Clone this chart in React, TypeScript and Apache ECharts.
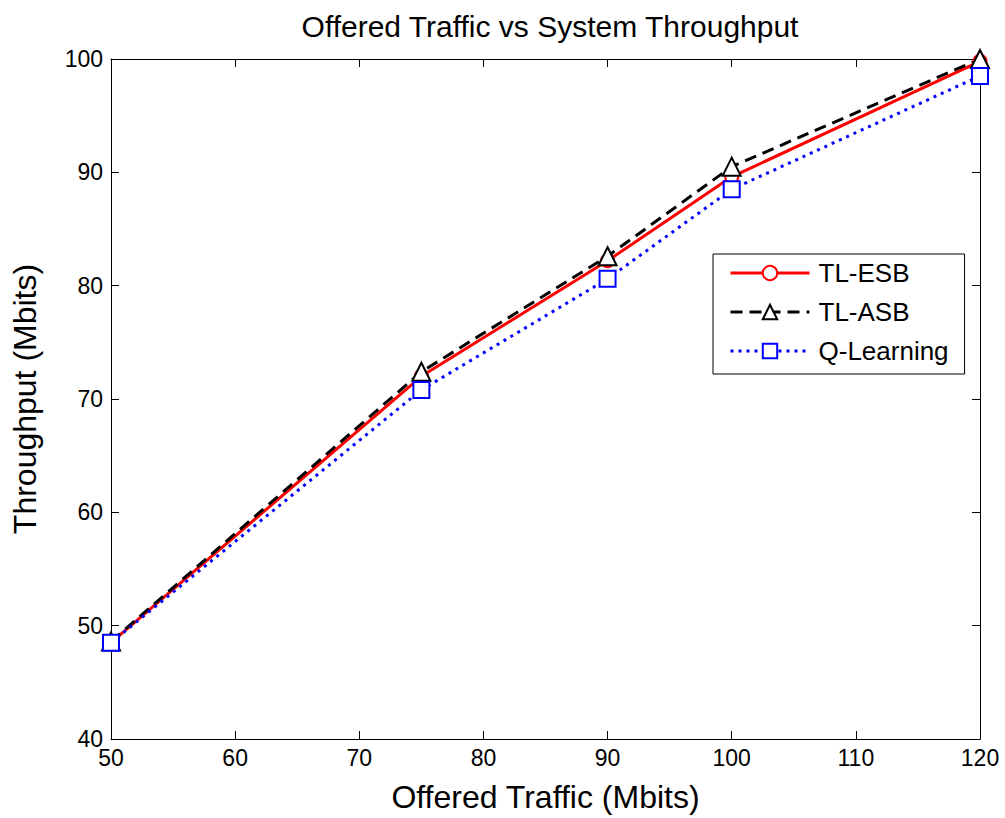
import React, { useEffect, useRef } from "react";
import * as echarts from "echarts";

// Offered traffic (Mbits) on the x axis
const traffic = [50, 75, 90, 100, 120];
// Throughput (Mbits) for each scheme
const tlEsb = [48.5, 72.0, 82.2, 89.6, 99.8];
const tlAsb = [48.6, 72.4, 82.6, 90.5, 100.0];
const qLearning = [48.5, 70.8, 80.6, 88.5, 98.5];

const xTicks = [50, 60, 70, 80, 90, 100, 110, 120];
const yTicks = [40, 50, 60, 70, 80, 90, 100];

const FONT = "'Liberation Sans', Arial, Helvetica, sans-serif";

const pairs = (ys: number[]) => traffic.map((x, i) => [x, ys[i]]);

export default function App() {
  const ref = useRef<HTMLDivElement>(null);

  useEffect(() => {
    if (!ref.current) return;
    const chart = echarts.init(ref.current, null, { renderer: "svg" });

    const grid = { left: 111, top: 59, width: 869, height: 683 };
    const tick = { show: true, inside: true, length: 8, lineStyle: { color: "#000", width: 1 } };
    const axisLine = { show: true, onZero: false, lineStyle: { color: "#000", width: 1 } };

    chart.setOption({
      animation: false,
      backgroundColor: "#fff",
      title: {
        text: "Offered Traffic vs System Throughput",
        left: 545,
        top: 6,
        textAlign: "center",
        textStyle: { fontFamily: FONT, fontSize: 30, fontWeight: "normal", color: "#000" },
      },
      grid,
      legend: {
        orient: "vertical",
        left: 713,
        top: 254,
        padding: [6, 16, 10, 16],
        itemGap: 13,
        itemWidth: 79,
        itemHeight: 18,
        borderColor: "#000",
        borderWidth: 1,
        backgroundColor: "#fff",
        lineStyle: { width: 3 },
        itemStyle: { borderWidth: 3 },
        textStyle: { fontFamily: FONT, fontSize: 26, color: "#000", padding: [0, 0, 0, 4] },
        data: ["TL-ESB", "TL-ASB", "Q-Learning"],
      },
      xAxis: [
        {
          type: "value",
          min: 50,
          max: 120,
          interval: 10,
          name: "Offered Traffic (Mbits)",
          nameLocation: "middle",
          nameGap: 42,
          nameTextStyle: { fontFamily: FONT, fontSize: 32, color: "#000" },
          axisLine,
          axisTick: tick,
          axisLabel: {
            fontFamily: FONT,
            fontSize: 23,
            color: "#000",
            margin: 7,
            customValues: xTicks,
          },
          splitLine: { show: false },
        },
        {
          type: "value",
          position: "top",
          min: 50,
          max: 120,
          interval: 10,
          axisLine,
          axisTick: tick,
          axisLabel: { show: false },
          splitLine: { show: false },
        },
      ],
      yAxis: [
        {
          type: "value",
          min: 40,
          max: 100,
          interval: 10,
          name: "Throughput (Mbits)",
          nameLocation: "middle",
          nameGap: 70,
          nameTextStyle: { fontFamily: FONT, fontSize: 32, color: "#000" },
          axisLine,
          axisTick: tick,
          axisLabel: {
            fontFamily: FONT,
            fontSize: 23,
            color: "#000",
            margin: 8,
            customValues: yTicks,
          },
          splitLine: { show: false },
        },
        {
          type: "value",
          position: "right",
          min: 40,
          max: 100,
          interval: 10,
          axisLine,
          axisTick: tick,
          axisLabel: { show: false },
          splitLine: { show: false },
        },
      ],
      series: [
        {
          name: "TL-ESB",
          type: "line",
          data: pairs(tlEsb),
          symbol: "emptyCircle",
          symbolSize: 13,
          lineStyle: { color: "#ff0000", width: 3, type: "solid" },
          itemStyle: { color: "#ff0000", borderColor: "#ff0000", borderWidth: 2.5 },
        },
        {
          name: "TL-ASB",
          type: "line",
          data: pairs(tlAsb),
          symbol: "emptyTriangle",
          symbolSize: 18,
          lineStyle: { color: "#000", width: 3, type: [12, 7] },
          itemStyle: { color: "#000", borderColor: "#000", borderWidth: 2.5 },
        },
        {
          name: "Q-Learning",
          type: "line",
          data: pairs(qLearning),
          symbol: "emptyRect",
          symbolSize: 16,
          lineStyle: { color: "#0000ff", width: 3, type: [3, 5] },
          itemStyle: { color: "#0000ff", borderColor: "#0000ff", borderWidth: 3 },
        },
      ],
    });

    return () => chart.dispose();
  }, []);

  return (
    <div
      ref={ref}
      style={{ position: "absolute", left: 0, top: 0, width: 1005, height: 818, background: "#fff" }}
    />
  );
}
